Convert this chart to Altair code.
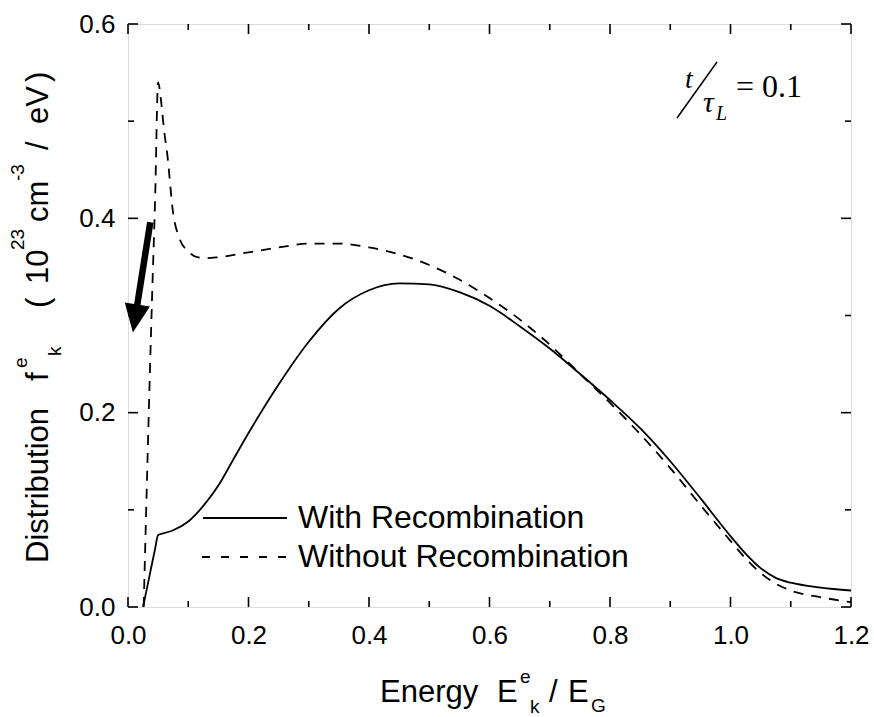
import altair as alt
import pandas as pd

# ---------------- data ----------------
energy_with = [0.025, 0.035, 0.045, 0.05, 0.06, 0.075, 0.1, 0.125, 0.15, 0.175, 0.2, 0.25, 0.3,
               0.35, 0.4, 0.45, 0.5, 0.55, 0.6, 0.65, 0.7, 0.75, 0.8, 0.85, 0.9, 0.95, 1.0,
               1.025, 1.05, 1.075, 1.1, 1.15, 1.2]
dist_with = [0.0, 0.03, 0.06, 0.074, 0.076, 0.079, 0.088, 0.104, 0.125, 0.152, 0.179, 0.229, 0.273,
             0.307, 0.326, 0.333, 0.332, 0.324, 0.31, 0.289, 0.266, 0.24, 0.213, 0.184, 0.15, 0.112,
             0.073, 0.055, 0.04, 0.03, 0.025, 0.02, 0.017]

energy_without = [0.026, 0.04, 0.045, 0.05, 0.055, 0.06, 0.065, 0.075, 0.085, 0.1, 0.115,
                  0.13, 0.15, 0.2, 0.25, 0.3, 0.35, 0.4, 0.45, 0.5, 0.55, 0.6, 0.65, 0.7,
                  0.75, 0.8, 0.85, 0.9, 0.95, 1.0, 1.025, 1.05, 1.075, 1.1, 1.15, 1.2]
dist_without = [0.0, 0.32, 0.42, 0.54, 0.52, 0.49, 0.467, 0.405, 0.38, 0.366, 0.36,
                0.359, 0.36, 0.365, 0.37, 0.374, 0.374, 0.37, 0.363, 0.352, 0.337, 0.318, 0.296, 0.27,
                0.24, 0.21, 0.178, 0.143, 0.105, 0.068, 0.05, 0.035, 0.024, 0.017, 0.01, 0.005]

x_major = [0.0, 0.2, 0.4, 0.6, 0.8, 1.0, 1.2]
x_minor = [0.1, 0.3, 0.5, 0.7, 0.9, 1.1]
y_major = [0.0, 0.2, 0.4, 0.6]
y_minor = [0.1, 0.3, 0.5]

arrow_x = [0.037, 0.0118]
arrow_y = [0.396, 0.297]

# ---------------- layout ----------------
W, H = 723, 583
LEFT, TOP = 128, 24
SANS = "Liberation Sans, Arial, Helvetica, sans-serif"
SERIF = "Liberation Serif, Times New Roman, serif"

xs = alt.Scale(domain=[0, 1.2], nice=False, zero=False)
ys = alt.Scale(domain=[0, 0.6], nice=False, zero=False)

x_axis = alt.Axis(values=x_major, format=".1f", ticks=False, domain=False, grid=False,
                  title=None, labelFontSize=26, labelFont=SANS, labelColor="black",
                  labelPadding=15, labelFlush=False, labelOverlap=False)
y_axis = alt.Axis(values=y_major, format=".1f", ticks=False, domain=False, grid=False,
                  title=None, labelFontSize=26, labelFont=SANS, labelColor="black",
                  labelPadding=13, labelFlush=False, labelOverlap=False)


def X(field="E"):
    return alt.X(f"{field}:Q", scale=xs, axis=x_axis)


def Y(field="f"):
    return alt.Y(f"{field}:Q", scale=ys, axis=y_axis)


df_with = pd.DataFrame({"E": energy_with, "f": dist_with})
df_without = pd.DataFrame({"E": energy_without, "f": dist_without})

line_with = alt.Chart(df_with).mark_line(
    color="black", strokeWidth=1.8, interpolate="monotone").encode(x=X(), y=Y(), order="E:Q")
line_without = alt.Chart(df_without).mark_line(
    color="black", strokeWidth=1.8, strokeDash=[10, 8], interpolate="monotone").encode(
    x=X(), y=Y(), order="E:Q")


# inward ticks on all four sides
def xticks(values, length):
    d = pd.DataFrame({"E": values})
    bottom = alt.Chart(d).mark_rule(color="black", strokeWidth=1.6).encode(
        x=X(), y=alt.value(H), y2=alt.value(H - length))
    top = alt.Chart(d).mark_rule(color="black", strokeWidth=1.6).encode(
        x=X(), y=alt.value(0), y2=alt.value(length))
    return [bottom, top]


def yticks(values, length):
    d = pd.DataFrame({"f": values})
    left = alt.Chart(d).mark_rule(color="black", strokeWidth=1.6).encode(
        y=Y(), x=alt.value(0), x2=alt.value(length))
    right = alt.Chart(d).mark_rule(color="black", strokeWidth=1.6).encode(
        y=Y(), x=alt.value(W), x2=alt.value(W - length))
    return [left, right]


ticks = xticks(x_major, 10) + xticks(x_minor, 6) + yticks(y_major, 10) + yticks(y_minor, 6)

# arrow
arrow_df = pd.DataFrame({"E": [arrow_x[0]], "f": [arrow_y[0]],
                         "E2": [arrow_x[1]], "f2": [arrow_y[1]]})
arrow_shaft = alt.Chart(arrow_df).mark_rule(color="black", strokeWidth=6.5).encode(
    x=X(), y=Y(), x2="E2:Q", y2="f2:Q")
arrow_head = alt.Chart(pd.DataFrame({"E": [arrow_x[1]], "f": [arrow_y[1]]})).mark_point(
    shape="M0,1L-0.9,-1L0.9,-1Z", filled=True, color="black", opacity=1,
    size=800, angle=9, strokeWidth=0).encode(x=X(), y=Y())


# text helper with absolute page coordinates
def label(text, x, y, size, angle=0, font=SANS, style="normal", align="left"):
    return alt.Chart(alt.Data(values=[{"k": 1}])).mark_text(
        text=text, font=font, fontSize=size, fontStyle=style, angle=angle,
        align=align, baseline="alphabetic", color="black").encode(
        x=alt.value(x - LEFT), y=alt.value(y - TOP))


texts = [
    # x-axis title
    label("Energy", 380, 702, 31),
    label("E", 497, 702, 31),
    label("e", 520, 683, 19),
    label("k", 530, 713, 19),
    label("/", 549, 702, 31),
    label("E", 568, 702, 31),
    label("G", 591, 712, 19),
    # y-axis title (rotated)
    label("Distribution", 48, 563, 31, angle=270),
    label("f", 48, 381, 31, angle=270),
    label("e", 27, 368, 19, angle=270),
    label("k", 61, 356, 19, angle=270),
    label("(", 48, 308, 31, angle=270),
    label("10", 48, 284, 31, angle=270),
    label("23", 24, 250, 19, angle=270),
    label("cm", 48, 222, 31, angle=270),
    label("-3", 24, 181, 19, angle=270),
    label("/", 48, 150, 31, angle=270),
    label("eV", 48, 124, 31, angle=270),
    label(")", 48, 82, 31, angle=270),
    # legend
    label("With Recombination", 298, 528, 32),
    label("Without Recombination", 298, 567, 32),
    # t / tau_L = 0.1
    label("t", 685, 88, 28, font=SERIF, style="italic"),
    label("\u03c4", 703, 112, 30, font=SERIF, style="italic"),
    label("L", 716, 120, 20, font=SERIF, style="italic"),
    label("= 0.1", 736, 97, 32, font=SERIF),
]


def seg(x1, y1, x2, y2, dash=None, width=1.8):
    kw = dict(color="black", strokeWidth=width)
    if dash:
        kw["strokeDash"] = dash
    return alt.Chart(alt.Data(values=[{"k": 1}])).mark_rule(**kw).encode(
        x=alt.value(x1 - LEFT), y=alt.value(y1 - TOP),
        x2=alt.value(x2 - LEFT), y2=alt.value(y2 - TOP))


legend_lines = [
    seg(203, 518, 287, 518),
    seg(202, 557, 292, 557, dash=[8, 11]),
    seg(677, 118, 717, 62, width=1.5),
]

chart = alt.layer(line_with, line_without, *ticks, arrow_shaft, arrow_head,
                  *legend_lines, *texts).properties(
    width=W, height=H,
    padding={"left": LEFT, "top": TOP, "right": 874 - LEFT - W, "bottom": 717 - TOP - H},
    autosize=alt.AutoSizeParams(type="none"),
).configure_view(stroke="black", strokeWidth=2).configure(background="white")

chart.save("out.html", embed_options={"renderer": "svg", "actions": False})
